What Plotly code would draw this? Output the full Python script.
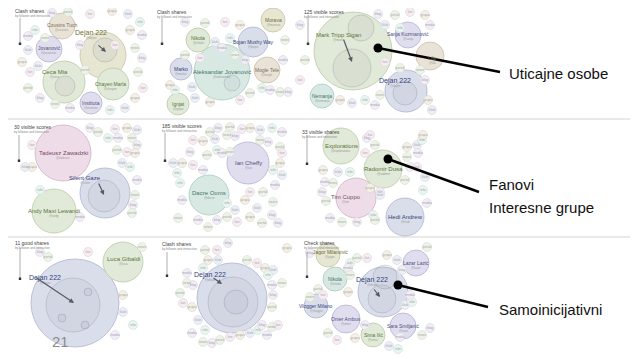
import plotly.graph_objects as go

W, H = 638, 359
PAGE_MARGIN = 8  # default body margin of the html page

# ---------------- data ----------------
big_x = [62, 103, 49, 64, 113, 91,
         222, 198, 253, 273, 181, 267, 178,
         353, 408, 430, 406, 322,
         63, 105, 54,
         248, 209,
         341, 383, 356, 405,
         75, 123,
         232,
         383, 328, 335, 416, 316, 346, 403, 373]
big_y = [26, 55, 49, 82, 84, 103,
         72, 40, 42, 20, 69, 70, 104,
         51, 35, 56, 91, 96,
         153, 193, 211,
         163, 195,
         146, 169, 198, 217,
         303, 262,
         298,
         292, 255, 279, 263, 306, 319, 326, 335]
big_r = [13, 23, 13, 21, 16, 11,
         28, 12, 15, 12, 11, 13, 11,
         39, 13, 14, 21, 12,
         28, 25, 22,
         21, 20,
         18, 19, 20, 19,
         44, 20,
         35,
         25, 12, 12, 13, 12, 14, 13, 12]
big_tone = ['beige', 'olive', 'purple', 'green', 'green', 'purple',
            'teal', 'green', 'blue', 'olive', 'blue', 'beige', 'green',
            'green', 'purple', 'beige', 'blue', 'teal',
            'pink', 'blue', 'green',
            'purple', 'teal',
            'green', 'green', 'pink', 'blue',
            'blue', 'green',
            'blue',
            'blue', 'olive', 'teal', 'purple', 'blue', 'purple', 'purple', 'green']
big_label = ['Cousins Tuch', 'Dejan 222', 'Jovanović', 'Ceca Mia', 'Chayen Marla', 'Instituta',
             'Aleksandar Jovanović', 'Nikola', 'Bojan Mushy Way', 'Morava', 'Marko', 'Mogle Tele', 'Ignjat',
             'Mark Tripp Sigan', 'Sanja Kuzmanović', 'Lila', 'Dejan 222', 'Nemanja',
             'Tadeusz Zawadzki', 'Silent Gaze', 'Andy Maxi Lewandi',
             'Ian Cheffy', 'Dacre Ooms',
             'Explorations', 'Radomir Dusa', 'Tim Cuppo', 'Hedi Andrew',
             'Dejan 222', 'Luca Gibaldi',
             'Dejan 222',
             'Dejan 222', 'Jagor Milanović', 'Nikola', 'Lazar Lazić', 'Vlogger Milano',
             'Omer Ambus', 'Sara Smiljanić', 'Sima Ilić']
label_x = [62, 91, 49, 55, 110, 91,
           222, 198, 253, 273, 181, 267, 178,
           338, 408, 432, 395, 322,
           63, 85, 54,
           248, 209,
           341, 383, 346, 405,
           45, 123,
           210,
           372, 330, 335, 416, 316, 346, 403, 373]
label_y = [25, 33, 48, 72, 84, 103,
           72, 38, 42, 20, 69, 70, 104,
           35, 34, 58, 81, 96,
           153, 178, 211,
           163, 193,
           146, 169, 197, 217,
           278, 259,
           275,
           280, 252, 279, 263, 306, 319, 326, 335]

inner_x = [105, 65, 232, 361, 352, 405, 104, 73, 233, 236, 385, 382, 88, 85, 62]
inner_y = [50, 86, 83, 28, 68, 93, 196, 305, 302, 302, 277, 299, 292, 325, 318]
inner_r = [12, 10, 8, 13, 19, 12, 16, 27, 25, 12, 12, 14, 4, 4, 4]

p1_x = [52, 68, 90, 112, 128, 140, 142, 135, 142, 138, 143, 135, 125, 110, 70, 55, 40, 28, 30, 22, 38, 35, 28, 45, 80, 85, 115, 130, 28]
p1_y = [13, 12, 14, 11, 14, 22, 35, 48, 58, 72, 88, 98, 108, 110, 108, 104, 98, 88, 72, 62, 66, 30, 36, 38, 45, 70, 45, 30, 50]
p2_x = [185, 205, 225, 240, 215, 230, 222, 235, 245, 185, 200, 170, 192, 262, 270, 280, 288, 250, 240, 210, 195, 175, 283, 285]
p2_y = [22, 23, 22, 25, 42, 38, 48, 55, 60, 55, 58, 85, 87, 88, 90, 92, 92, 93, 100, 102, 98, 90, 60, 40]
p3_x = [378, 395, 410, 425, 385, 400, 430, 420, 425, 400, 385, 340, 352, 365, 375, 380, 300, 305, 300, 428, 432]
p3_y = [14, 15, 12, 15, 25, 28, 25, 70, 80, 68, 62, 100, 103, 100, 105, 95, 25, 60, 80, 100, 110]
p4_x = [90, 98, 115, 127, 137, 108, 118, 132, 137, 117, 127, 135, 122, 130, 137, 135, 133, 132, 32, 32, 25, 40, 80]
p4_y = [128, 132, 129, 128, 130, 138, 138, 138, 145, 150, 152, 153, 163, 167, 180, 195, 205, 213, 145, 167, 167, 190, 217]
p5_x = [218, 230, 242, 250, 260, 272, 282, 227, 235, 210, 193, 203, 215, 217, 222, 230, 190, 207, 193, 182,
        173, 177, 203, 260, 268, 280, 282, 280, 282, 273, 275, 273, 272, 263, 250, 245, 235, 227, 198, 208, 217,
        227, 237, 250, 257, 180, 182, 178, 278, 262]
p5_y = [128, 127, 129, 128, 130, 128, 132, 135, 136, 132, 140, 141, 139, 150, 153, 152, 152, 155, 165, 163,
        163, 173, 170, 140, 142, 147, 153, 163, 175, 170, 185, 202, 215, 192, 192, 200, 210, 203, 220, 227, 220,
        217, 222, 217, 208, 183, 200, 218, 223, 223]
p6_x = [367, 375, 370, 407, 417, 422, 418, 407, 410, 405, 417, 323, 338, 350, 325, 333, 322, 326, 380, 370, 380,
        373, 330, 342, 357, 375, 365, 423, 425, 423, 427]
p6_y = [138, 145, 135, 147, 145, 140, 153, 157, 167, 180, 167, 170, 172, 172, 182, 183, 192, 201, 192, 188, 195,
        215, 218, 222, 222, 220, 153, 135, 177, 190, 203]
p7_x = [40, 48, 88, 123, 123, 133, 115, 142]
p7_y = [252, 257, 252, 295, 312, 325, 335, 247]
p8_x = [228, 205, 217, 208, 218, 203, 187, 187, 193, 180, 183, 192, 198, 205, 192, 203, 212, 220, 230, 240,
        250, 258, 267, 272, 262, 247, 257, 265, 273, 268, 272, 282, 273, 272, 278, 287]
p8_y = [243, 250, 250, 260, 260, 268, 273, 283, 285, 293, 303, 307, 320, 330, 333, 342, 343, 340, 337, 335,
        333, 330, 335, 327, 325, 260, 263, 268, 270, 275, 285, 283, 295, 307, 325, 248]
p9_x = [310, 357, 367, 387, 397, 350, 348, 350, 402, 318, 323, 348, 405, 412, 410, 310, 365, 328, 337, 355,
        389, 398, 400, 422, 430, 427]
p9_y = [253, 258, 258, 255, 260, 263, 268, 275, 270, 289, 295, 292, 305, 302, 295, 297, 325, 333, 340, 338,
        346, 349, 337, 335, 328, 247]

small_names = ['blog', 'portal', 'fan', 'grupa', 'klub', 'info', 'media', 'news']

panel_title = ['Clash shares', 'Clash shares', '125 visible scores', '30 visible scores', '185 visible scores',
               '33 visible shares', '11 good shares', 'Clash shares', 'Check shares']
title_x = [13, 155, 302, 12, 160, 300, 13, 160, 302]
title_y = [11, 12, 12, 127, 126, 132, 243, 244, 243]
scale_x = [20, 162, 308, 19, 165, 307, 20, 167, 307]
scale_y0 = [18, 18, 15, 135, 133, 135, 248, 252, 252]
scale_y1 = [45, 45, 45, 162, 162, 165, 280, 277, 278]

arrow_x0 = [97, 343, 98, 35, 212, 373]
arrow_y0 = [44, 38, 182, 277, 277, 288]
arrow_x1 = [106, 352, 104, 74, 222, 380]
arrow_y1 = [52, 62, 195, 303, 284, 297]

dot_x = [378, 388, 398]
dot_y = [48, 159, 285]
end_x = [500, 479, 488]
end_y = [72, 192, 307]
callout_text = ['Uticajne osobe', 'Fanovi', 'Interesne grupe', 'Samoinicijativni']
callout_x = [507, 487, 487, 497]
callout_y = [73, 184, 207, 309]

row_separators = [119, 237]
page_number = '21'

# ---------------- styling ----------------
TONES = {
    'beige': ('#e9e3d7', '#c9bea8', '#7d6e52'),
    'olive': ('#e6e6d3', '#c4c4a2', '#6f6f30'),
    'green': ('#e1e9d8', '#b9caa6', '#5a7639'),
    'purple': ('#e0deee', '#b4b2d3', '#4f4f7e'),
    'teal': ('#d8e9e4', '#a7cbc0', '#3f7567'),
    'pink': ('#eedde8', '#d0b0c5', '#7a4868'),
    'blue': ('#dadeeb', '#adb5cf', '#34427a'),
}
SMALL_TONES = {
    'purple': ('#f1eef6', '#d9d3e6'),
    'green': ('#eef3ea', '#d3dfca'),
    'pink': ('#f6edf2', '#e3cfdb'),
    'beige': ('#f4f0e8', '#ddd4c3'),
    'blue': ('#eceff6', '#d0d6e6'),
    'teal': ('#eaf4f1', '#c8e0d8'),
}
SMALL_CYCLE = ['purple', 'green', 'pink', 'beige', 'blue', 'teal', 'purple', 'green']

fig = go.Figure()
shapes = []
annotations = []

for y in row_separators:
    shapes.append(dict(type='line', xref='x', yref='y', x0=0, x1=W, y0=y, y1=y,
                       line=dict(color='#d4d4d4', width=1), layer='below'))

for cx, cy, r, tone in zip(big_x, big_y, big_r, big_tone):
    fill, line, _ = TONES[tone]
    shapes.append(dict(type='circle', xref='x', yref='y', x0=cx - r, x1=cx + r, y0=cy - r, y1=cy + r,
                       fillcolor=fill, line=dict(color=line, width=0.8), layer='below'))

for cx, cy, r in zip(inner_x, inner_y, inner_r):
    shapes.append(dict(type='circle', xref='x', yref='y', x0=cx - r, x1=cx + r, y0=cy - r, y1=cy + r,
                       fillcolor='rgba(110,115,130,0.07)', line=dict(color='rgba(110,115,130,0.35)', width=0.7),
                       layer='below'))

for sx, y0, y1 in zip(scale_x, scale_y0, scale_y1):
    shapes.append(dict(type='line', xref='x', yref='y', x0=sx, x1=sx, y0=y0, y1=y1,
                       line=dict(color='#9a9a9a', width=0.8)))
    shapes.append(dict(type='rect', xref='x', yref='y', x0=sx - 1.2, x1=sx + 1.2, y0=y1 - 2.5, y1=y1,
                       fillcolor='#333333', line=dict(width=0)))

all_small = [(p1_x, p1_y), (p2_x, p2_y), (p3_x, p3_y), (p4_x, p4_y), (p5_x, p5_y),
             (p6_x, p6_y), (p7_x, p7_y), (p8_x, p8_y), (p9_x, p9_y)]
for xs, ys in all_small:
    fills = [SMALL_TONES[SMALL_CYCLE[i % len(SMALL_CYCLE)]][0] for i in range(len(xs))]
    lines = [SMALL_TONES[SMALL_CYCLE[i % len(SMALL_CYCLE)]][1] for i in range(len(xs))]
    names = [small_names[i % len(small_names)] for i in range(len(xs))]
    fig.add_trace(go.Scatter(
        x=xs, y=ys, mode='markers+text', text=names, textposition='middle center',
        textfont=dict(size=3.5, color='#a6a6a6', family='Liberation Sans'),
        marker=dict(size=9, color=fills, line=dict(color=lines, width=0.6)),
        hoverinfo='skip', showlegend=False))

for lx, ly, lab, tone, r in zip(label_x, label_y, big_label, big_tone, big_r):
    _, _, tcol = TONES[tone]
    size = 7 if lab == 'Dejan 222' else (6 if r >= 18 else 5)
    annotations.append(dict(x=lx, y=ly, xref='x', yref='y', text=lab, showarrow=False,
                            font=dict(size=size, color=tcol, family='Liberation Sans')))
    annotations.append(dict(x=lx, y=ly + 5, xref='x', yref='y', text='@' + lab.split(' ')[0].lower(),
                            showarrow=False, font=dict(size=3, color='#9a9a9a', family='Liberation Sans')))

for tx, ty, tt in zip(title_x, title_y, panel_title):
    annotations.append(dict(x=tx, y=ty, xref='x', yref='y', text=tt, showarrow=False, xanchor='left',
                            font=dict(size=5, color='#444444', family='Liberation Sans')))
    annotations.append(dict(x=tx, y=ty + 4.5, xref='x', yref='y', text='by follower and interaction',
                            showarrow=False, xanchor='left',
                            font=dict(size=3, color='#888888', family='Liberation Sans')))

for x0, y0, x1, y1 in zip(arrow_x0, arrow_y0, arrow_x1, arrow_y1):
    annotations.append(dict(x=x1, y=y1, ax=x0, ay=y0, xref='x', yref='y', axref='x', ayref='y',
                            text='', showarrow=True, arrowhead=2, arrowsize=0.8, arrowwidth=1.2,
                            arrowcolor='#555b66'))

for x0, y0, x1, y1 in zip(dot_x, dot_y, end_x, end_y):
    fig.add_trace(go.Scatter(x=[x0, x1], y=[y0, y1], mode='lines',
                             line=dict(color='black', width=2.4), hoverinfo='skip', showlegend=False))
fig.add_trace(go.Scatter(x=dot_x, y=dot_y, mode='markers', marker=dict(size=9, color='black'),
                         hoverinfo='skip', showlegend=False))

for cx, cy, ct in zip(callout_x, callout_y, callout_text):
    annotations.append(dict(x=cx, y=cy, xref='x', yref='y', text=ct, showarrow=False, xanchor='left',
                            align='left', font=dict(size=15, color='#111111', family='Liberation Sans')))

annotations.append(dict(x=60, y=341, xref='x', yref='y', text=page_number, showarrow=False,
                        font=dict(size=15, color='#8c8c8c', family='Liberation Sans')))

# the page body has an 8px margin: size the figure to the remaining area and shift the
# axis ranges so that data coordinates equal page pixel coordinates
fig.update_layout(
    width=W - PAGE_MARGIN, height=H - PAGE_MARGIN, autosize=False,
    margin=dict(l=0, r=0, t=0, b=0),
    paper_bgcolor='white', plot_bgcolor='white',
    xaxis=dict(range=[PAGE_MARGIN, W], visible=False, fixedrange=True),
    yaxis=dict(range=[H, PAGE_MARGIN], visible=False, fixedrange=True),
    shapes=shapes, annotations=annotations,
)

fig.write_html("out.html")
